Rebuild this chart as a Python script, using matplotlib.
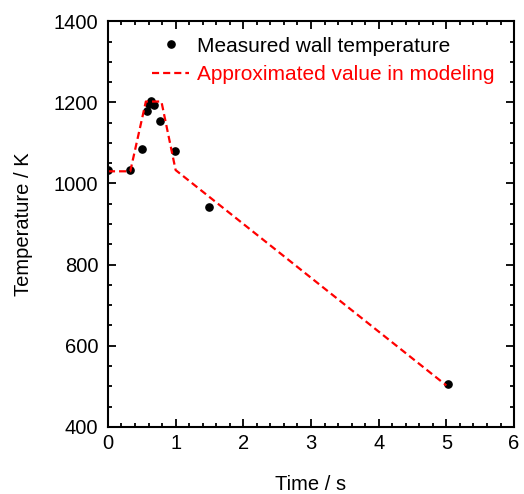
import matplotlib
matplotlib.use('Agg')
import matplotlib.pyplot as plt
from matplotlib.ticker import MultipleLocator

plt.rcParams['font.family'] = ['Liberation Sans', 'DejaVu Sans']

# --- data ---
meas_time = [0.0, 0.33, 0.51, 0.58, 0.60, 0.63, 0.68, 0.77, 0.99, 1.49, 5.03]
meas_temp = [1032, 1032, 1085, 1178, 1196, 1203, 1193, 1153, 1081, 942, 505]

model_time = [0.0, 0.33, 0.56, 0.79, 1.0, 5.0]
model_temp = [1030, 1030, 1202, 1202, 1033, 502]

fig = plt.figure(figsize=(5.24, 4.94), dpi=100)
ax = fig.add_axes([0.206, 0.136, 0.775, 0.821])

ax.plot(meas_time, meas_temp, 'o', color='black', markersize=5.2,
        linestyle='none', label='Measured wall temperature')
ax.plot(model_time, model_temp, color='red', linewidth=1.6,
        linestyle=(0, (3.2, 1.8)), label='Approximated value in modeling')

ax.set_xlim(0, 6)
ax.set_ylim(400, 1400)
ax.xaxis.set_major_locator(MultipleLocator(1))
ax.xaxis.set_minor_locator(MultipleLocator(0.2))
ax.yaxis.set_major_locator(MultipleLocator(200))
ax.yaxis.set_minor_locator(MultipleLocator(50))
ax.tick_params(which='both', direction='in', top=True, right=True,
               labelsize=14.5, width=1.3)
ax.tick_params(which='major', length=6)
ax.tick_params(axis='x', which='major', pad=5)
ax.tick_params(axis='y', which='major', pad=7)
ax.tick_params(which='minor', length=3)
for s in ax.spines.values():
    s.set_linewidth(1.5)

ax.set_xlabel('Time / s', fontsize=14.5, labelpad=16)
ax.set_ylabel('Temperature / K', fontsize=14.5, labelpad=15)

leg = ax.legend(loc='upper left', frameon=False, fontsize=15,
                handlelength=1.8, handletextpad=0.35, borderpad=0,
                borderaxespad=0, labelspacing=0.45,
                bbox_to_anchor=(0.108, 0.962))
for txt, c in zip(leg.get_texts(), ['black', 'red']):
    txt.set_color(c)

fig.savefig('out.png', dpi=100)
